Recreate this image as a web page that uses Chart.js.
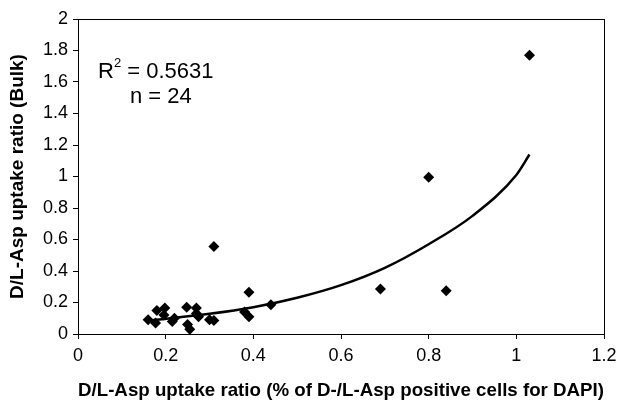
<!DOCTYPE html>
<html>
<head>
<meta charset="utf-8">
<script src="https://cdn.jsdelivr.net/npm/chart.js@4/dist/chart.umd.min.js"></script>
<style>
    html, body { margin: 0; padding: 0; background: #fff; }
    #wrap { width: 624px; height: 403px; position: relative; }
</style>
</head>
<body>
<div id="wrap"><canvas id="myChart"></canvas></div>
<script>
// measured points (x = % positive cells ratio, y = bulk ratio)
const xValues = [0.16, 0.177, 0.18, 0.198, 0.196, 0.215, 0.22, 0.248, 0.25, 0.255, 0.27, 0.27,
    0.275, 0.30, 0.31, 0.31, 0.38, 0.39, 0.39, 0.44, 0.69, 0.80, 0.84, 1.03];
const yValues = [0.09, 0.07, 0.15, 0.165, 0.12, 0.08, 0.10, 0.17, 0.06, 0.03, 0.165, 0.13,
    0.11, 0.09, 0.085, 0.555, 0.14, 0.11, 0.265, 0.185, 0.285, 0.995, 0.275, 1.77];

// exponential trend line
const trendX = [0.16, 0.3, 0.4, 0.5, 0.6, 0.7, 0.8, 0.9, 1.0, 1.03];
const trendY = [0.085, 0.128, 0.17, 0.23, 0.31, 0.42, 0.57, 0.75, 1.01, 1.14];

const xTicks = [0, 0.2, 0.4, 0.6, 0.8, 1, 1.2];
const yTicks = [0, 0.2, 0.4, 0.6, 0.8, 1, 1.2, 1.4, 1.6, 1.8, 2];

const rSquared = '0.5631';
const nCount = '24';

const fontFamily = 'Arial, "Liberation Sans", sans-serif';

const frameBox = {
    id: 'frameBox',
    afterDraw(chart) {
        const a = chart.chartArea;
        const ctx = chart.ctx;
        ctx.save();
        ctx.strokeStyle = '#000';
        ctx.lineWidth = 1;
        ctx.strokeRect(Math.round(a.left) + 0.5, Math.round(a.top) + 0.5,
            Math.round(a.right - a.left), Math.round(a.bottom - a.top));

        // R² and n annotation
        ctx.fillStyle = '#000';
        ctx.textBaseline = 'alphabetic';
        ctx.font = '22px ' + fontFamily;
        ctx.fillText('R', 98, 78);
        let w = ctx.measureText('R').width;
        ctx.font = '13px ' + fontFamily;
        ctx.fillText('2', 98 + w, 67);
        let w2 = ctx.measureText('2').width;
        ctx.font = '22px ' + fontFamily;
        ctx.fillText(' = ' + rSquared, 98 + w + w2, 78);
        ctx.fillText('n = ' + nCount, 130, 103);
        ctx.restore();
    }
};

function plainLabel(value) {
    return String(Math.round(value * 10) / 10);
}

const ctx = document.getElementById('myChart').getContext('2d');

new Chart(ctx, {
    type: 'scatter',
    data: {
        datasets: [
            {
                label: 'data',
                data: xValues.map((x, i) => ({ x: x, y: yValues[i] })),
                pointStyle: 'rectRot',
                pointRadius: 5.5,
                pointHoverRadius: 5.5,
                backgroundColor: '#000',
                borderColor: '#000',
                borderWidth: 0,
                order: 2
            },
            {
                label: 'trend',
                type: 'line',
                data: trendX.map((x, i) => ({ x: x, y: trendY[i] })),
                showLine: true,
                pointRadius: 0,
                borderColor: '#000',
                borderWidth: 2.5,
                fill: false,
                cubicInterpolationMode: 'monotone',
                order: 1
            }
        ]
    },
    options: {
        responsive: true,
        maintainAspectRatio: false,
        animation: false,
        layout: {
            padding: { top: 19, right: 20, left: 0, bottom: 0 }
        },
        plugins: {
            legend: { display: false },
            tooltip: { enabled: false }
        },
        scales: {
            x: {
                type: 'linear',
                min: 0,
                max: 1.2,
                afterBuildTicks: function(scale) {
                    scale.ticks = xTicks.map(v => ({ value: v }));
                },
                afterFit: function(scale) {
                    scale.height = 69;
                },
                grid: {
                    drawOnChartArea: false,
                    drawTicks: true,
                    tickLength: 5,
                    color: '#000'
                },
                border: { color: '#000', width: 1 },
                ticks: {
                    color: '#000',
                    padding: 6,
                    maxRotation: 0,
                    callback: plainLabel,
                    font: { family: fontFamily, size: 18 }
                },
                title: {
                    display: true,
                    text: 'D/L-Asp uptake ratio (% of D-/L-Asp positive cells for DAPI)',
                    color: '#000',
                    padding: { top: 2, bottom: 1 },
                    font: { family: fontFamily, size: 19, weight: 'bold' }
                }
            },
            y: {
                type: 'linear',
                min: 0,
                max: 2,
                afterBuildTicks: function(scale) {
                    scale.ticks = yTicks.map(v => ({ value: v }));
                },
                afterFit: function(scale) {
                    scale.width = 78;
                },
                grid: {
                    drawOnChartArea: false,
                    drawTicks: true,
                    tickLength: 5,
                    color: '#000'
                },
                border: { color: '#000', width: 1 },
                ticks: {
                    color: '#000',
                    padding: 5,
                    callback: plainLabel,
                    font: { family: fontFamily, size: 18 }
                },
                title: {
                    display: true,
                    text: 'D/L-Asp uptake ratio (Bulk)',
                    color: '#000',
                    padding: { top: 6, bottom: 2 },
                    font: { family: fontFamily, size: 19, weight: 'bold' }
                }
            }
        }
    },
    plugins: [frameBox]
});
</script>
</body>
</html>
